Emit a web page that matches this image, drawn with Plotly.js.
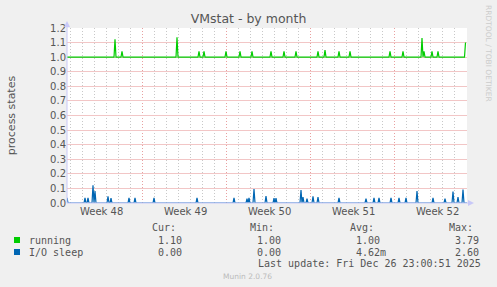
<!DOCTYPE html>
<html>
<head>
<meta charset="utf-8">
<script src="https://cdn.plot.ly/plotly-3.0.1.min.js"></script>
<style>html,body{margin:0;padding:0;background:#F0F0F0;}#chart{width:497px;height:287px;}</style>
</head>
<body>
<div id="chart"></div>
<script>
// ---- data ----
const rangeStart = '2025-11-23 15:00';
const rangeEnd = '2025-12-26 23:00';
const weekGridStart = '2025-11-29 22:00';
const weekLabels = ['Week 48', 'Week 49', 'Week 50', 'Week 51', 'Week 52'];
const weekLabelTimes = ['2025-11-26 11:00', '2025-12-03 11:00', '2025-12-10 11:00', '2025-12-17 11:00', '2025-12-24 11:00'];

const runningBase = 1.0;
const runningSpikeTimes = ['2025-11-27 15:00','2025-11-28 05:00','2025-12-02 19:00','2025-12-04 15:00','2025-12-05 01:00',
  '2025-12-06 21:00','2025-12-08 01:00','2025-12-09 01:00','2025-12-10 15:00','2025-12-11 17:00','2025-12-12 17:00',
  '2025-12-14 13:00','2025-12-15 03:00','2025-12-16 07:00','2025-12-17 05:00','2025-12-20 13:00','2025-12-21 15:00',
  '2025-12-23 05:00','2025-12-23 09:00','2025-12-24 01:00','2025-12-24 13:00'];
const runningSpikeValues = [1.122,1.04,1.137,1.04,1.04,1.04,1.04,1.04,1.04,1.04,1.04,1.04,1.048,1.04,1.04,1.04,1.04,1.132,1.04,1.04,1.04];
const runningLastTime = '2025-12-26 20:00';
const runningLastValue = 1.10;

const ioBase = 0.0;
const ioSpikeTimes = ['2025-11-23 15:00','2025-11-25 03:00','2025-11-25 09:00','2025-11-25 19:00','2025-11-25 23:00',
  '2025-11-27 01:00','2025-11-27 07:00','2025-11-28 19:00','2025-11-29 07:00','2025-11-30 21:00','2025-12-04 11:00',
  '2025-12-07 13:00','2025-12-08 15:00','2025-12-08 19:00','2025-12-09 05:00','2025-12-10 05:00','2025-12-10 21:00',
  '2025-12-11 01:00','2025-12-13 03:00','2025-12-13 07:00','2025-12-13 15:00','2025-12-14 03:00','2025-12-14 13:00',
  '2025-12-16 07:00','2025-12-18 13:00','2025-12-19 05:00','2025-12-19 15:00','2025-12-20 15:00','2025-12-21 07:00',
  '2025-12-21 21:00','2025-12-22 19:00','2025-12-24 03:00','2025-12-25 03:00','2025-12-25 19:00','2025-12-26 05:00',
  '2025-12-26 15:00'];
const ioSpikeValues = [0.035,0.035,0.035,0.122,0.082,0.045,0.033,0.035,0.035,0.035,0.035,
  0.035,0.03,0.035,0.096,0.047,0.033,0.033,0.089,0.04,0.03,0.045,0.04,
  0.035,0.03,0.035,0.035,0.035,0.035,0.035,0.082,0.035,0.03,0.079,0.04,0.093];
const ioLastTime = '2025-12-26 23:00';
const ioLastValue = 0.0;

const legendNames = ['running', 'I/O sleep'];
const legendColors = ['#00CC00', '#0066B3'];
const colHeaders = ['Cur:', 'Min:', 'Avg:', 'Max:'];
const curValues = ['1.10', '0.00'];
const minValues = ['1.00', '0.00'];
const avgValues = ['1.00', '4.62m'];
const maxValues = ['3.79', '2.60'];
const lastUpdate = 'Last update: Fri Dec 26 23:00:51 2025';
const versionText = 'Munin 2.0.76';
const sideText = 'RRDTOOL / TOBI OETIKER';
const titleText = 'VMstat - by month';
const yTitle = 'process states';

// ---- helpers ----
const H = 3600000;
function toMs(s) { return Date.parse(s.replace(' ', 'T') + ':00Z'); }
function toStr(ms) { return new Date(ms).toISOString().replace('T', ' ').slice(0, 19); }
function buildSeries(base, times, values, lastT, lastV) {
  const xs = [toStr(toMs(rangeStart) - 2 * H)], ys = [base];
  times.forEach((t, i) => {
    const m = toMs(t);
    xs.push(toStr(m - 2 * H), toStr(m), toStr(m + 2 * H));
    ys.push(base, values[i], base);
  });
  const lm = toMs(lastT);
  xs.push(toStr(lm - 2 * H), toStr(lm));
  ys.push(base, lastV);
  return { x: xs, y: ys };
}

const run = buildSeries(runningBase, runningSpikeTimes, runningSpikeValues, runningLastTime, runningLastValue);
const io = buildSeries(ioBase, ioSpikeTimes, ioSpikeValues, ioLastTime, ioLastValue);

// plot area in pixels
const L = 67, R = 467, T = 28, B = 203;
const px = v => (v - L) / (R - L);
const py = v => (B - v) / (B - T);

const textColor = '#555555';
const axisColor = '#C8C8F8';
const majorGrid = '#E8A0A0';
const hGrid = '#F2C6C6';
const minorGrid = '#C8C8C8';
const mono = 'DejaVu Sans Mono, monospace';
const sans = 'DejaVu Sans, sans-serif';

const traces = [
  { x: io.x, y: io.y, mode: 'lines', line: { color: legendColors[1], width: 1.2 }, hoverinfo: 'skip', showlegend: false },
  { x: run.x, y: run.y, mode: 'lines', line: { color: legendColors[0], width: 1.2 }, hoverinfo: 'skip', showlegend: false }
];

const ann = [];
function txt(x, y, text, opts) {
  ann.push(Object.assign({ xref: 'paper', yref: 'paper', x: px(x), y: py(y), text: text, showarrow: false,
    xanchor: 'left', yanchor: 'middle', font: { family: mono, size: 10, color: textColor } }, opts || {}));
}
// week labels placed on the time axis
weekLabels.forEach((w, i) => {
  ann.push({ xref: 'x', yref: 'paper', x: weekLabelTimes[i], y: py(211.5), text: w, showarrow: false,
    xanchor: 'center', yanchor: 'middle', font: { family: sans, size: 10, color: textColor } });
});
const headerX = [150, 248.3, 347.7, 446.7];
colHeaders.forEach((h, i) => txt(headerX[i], 227.3, h));
const valueX = [155.7, 255, 354, 453.3];
const rowsY = [240, 252];
legendNames.forEach((n, i) => {
  txt(26.5, rowsY[i], n);
  [curValues, minValues, avgValues, maxValues].forEach((col, j) => txt(valueX[j], rowsY[i], col[i]));
});
txt(482.7, 263.7, lastUpdate, { xanchor: 'right' });
txt(247.7, 276, versionText, { xanchor: 'center', font: { family: sans, size: 7.5, color: '#BBBBBB' } });
ann.push({ xref: 'paper', yref: 'paper', x: px(488.5), y: py(53.5), text: sideText, showarrow: false, textangle: 90,
  xanchor: 'center', yanchor: 'middle', font: { family: sans, size: 7.5, color: '#CCCCCC' } });

const shapes = [];
legendColors.forEach((c, i) => {
  shapes.push({ type: 'rect', xref: 'paper', yref: 'paper', x0: px(14), x1: px(20), y0: py(rowsY[i] - 3), y1: py(rowsY[i] + 3),
    fillcolor: c, line: { width: 0 } });
});
// axis arrows
shapes.push({ type: 'path', xref: 'paper', yref: 'paper', path: `M ${px(64)} ${py(27)} L ${px(70)} ${py(27)} L ${px(67)} ${py(21)} Z`,
  fillcolor: axisColor, line: { width: 0 } });
shapes.push({ type: 'path', xref: 'paper', yref: 'paper', path: `M ${px(468)} ${py(200)} L ${px(468)} ${py(206)} L ${px(474)} ${py(203)} Z`,
  fillcolor: axisColor, line: { width: 0 } });
shapes.push({ type: 'line', xref: 'paper', yref: 'paper', x0: px(67), x1: px(67), y0: py(203), y1: py(26), line: { color: axisColor, width: 1 } });
shapes.push({ type: 'line', xref: 'paper', yref: 'paper', x0: px(67), x1: px(469), y0: py(203), y1: py(203), line: { color: axisColor, width: 1 } });

const layout = {
  width: 497, height: 287,
  margin: { l: L, r: 497 - R, t: T, b: 287 - B, pad: 0 },
  paper_bgcolor: '#F0F0F0', plot_bgcolor: '#FFFFFF',
  title: { text: titleText, x: 0.5, xref: 'container', xanchor: 'center', y: 1 - 19 / 287, yref: 'container', yanchor: 'middle',
    font: { family: sans, size: 12.5, color: textColor } },
  xaxis: {
    type: 'date', range: [rangeStart, rangeEnd], tickmode: 'linear', tick0: weekGridStart, dtick: 7 * 86400000,
    showticklabels: false, ticks: '', showgrid: true, gridcolor: majorGrid, griddash: '1px,2px', gridwidth: 1,
    minor: { tick0: weekGridStart, dtick: 86400000, showgrid: true, gridcolor: minorGrid, griddash: '1px,2px', gridwidth: 1, ticks: '' },
    showline: false, zeroline: false, fixedrange: true
  },
  yaxis: {
    type: 'linear', range: [0, 1.2], dtick: 0.1, tickformat: '.1f', ticks: '',
    showgrid: true, gridcolor: hGrid, gridwidth: 1, zeroline: false, showline: false,
    tickfont: { family: sans, size: 10, color: textColor },
    title: { text: yTitle, font: { family: sans, size: 11, color: textColor }, standoff: 32 }
  },
  annotations: ann,
  shapes: shapes,
  showlegend: false
};

Plotly.newPlot('chart', traces, layout, { staticPlot: true, displayModeBar: false });
</script>
</body>
</html>
